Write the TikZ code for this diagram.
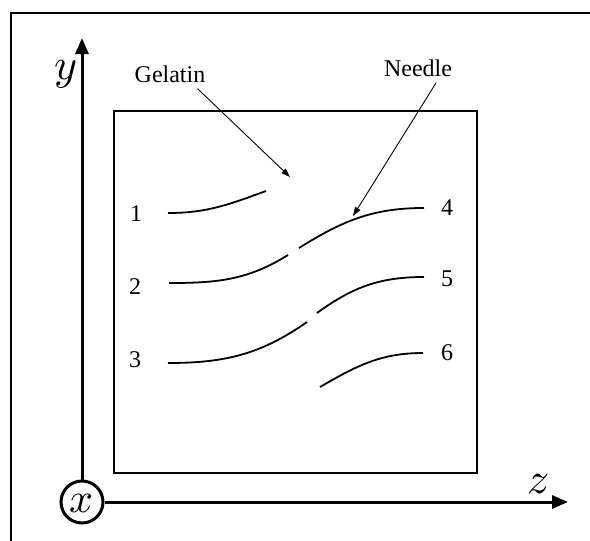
\documentclass[tikz,border=0pt]{standalone}
\usepackage{fontspec}
\usepackage{unicode-math}
\setmainfont{Liberation Serif}
\setmathfont{Latin Modern Math}
\usetikzlibrary{arrows.meta}
\begin{document}
\begin{tikzpicture}[x=1pt,y=-1pt,
  frame/.style={line width=1.6pt},
  axisline/.style={line width=3pt,-{Triangle[length=16pt,width=13pt]}},
  needle/.style={line width=1.8pt},
  pointer/.style={line width=0.9pt,-{Triangle[length=9pt,width=6pt]}},
  lab/.style={font=\fontsize{24}{28}\selectfont,inner sep=0pt},
  axlab/.style={font=\fontsize{44}{48}\selectfont,inner sep=0pt}]
\useasboundingbox (0,0) rectangle (590,541);
% outer frame
\draw[frame] (11,541) -- (11,13) -- (590,13);
% axes
\node[circle,draw,line width=3pt,minimum size=42pt,inner sep=0pt] (ox) at (82,502) {};
\node[font=\fontsize{42}{46}\selectfont,inner sep=0pt] (xlab) at ([yshift=-1pt]ox.center) {$x$};
\coordinate (ytip) at (82,38);
\coordinate (ztip) at (568,502);
\draw[axisline] (ox.north) -- (ytip);
\draw[axisline] (ox.east) -- (ztip);
\node[axlab] (ylab) at (66,74) {$y$};
\node[axlab] (zlab) at (538,484) {$z$};
% gelatin block
\draw[frame] (114,111) rectangle (477,473);
% needle tracks
\coordinate (a1) at (168,213); \coordinate (b1) at (266,191);
\coordinate (a2) at (169,283); \coordinate (b2) at (288,255);
\coordinate (a4) at (299,248); \coordinate (b4) at (424,208);
\coordinate (a3) at (168,363); \coordinate (b3) at (307,322);
\coordinate (a5) at (317,313); \coordinate (b5) at (424,277);
\coordinate (a6) at (320,387); \coordinate (b6) at (423,353);
\draw[needle] (a1) to[out=0,in=200] (b1);
\draw[needle] (a2) to[out=0,in=212] (b2);
\draw[needle] (a4) to[out=32,in=180] (b4);
\draw[needle] (a3) to[out=0,in=215] (b3);
\draw[needle] (a5) to[out=36,in=180] (b5);
\draw[needle] (a6) to[out=30,in=180] (b6);
% numbers
\node[lab] (n1) at (136,214) {1};
\node[lab] (n2) at (135,287) {2};
\node[lab] (n3) at (135,360) {3};
\node[lab] (n4) at (447,208) {4};
\node[lab] (n5) at (447,279) {5};
\node[lab] (n6) at (447,353) {6};
% labels with pointers
\node[lab] (gel) at (170,74) {Gelatin};
\node[lab] (ndl) at (418,68) {Needle};
\coordinate (gtip) at (290,177);
\coordinate (ntip) at (353,216);
\draw[pointer] (gel.south east) ++(-8,6) coordinate (gs) -- (gtip);
\draw[pointer] (ndl.south east) ++(-16,6) coordinate (ns) -- (ntip);
\end{tikzpicture}
\end{document}
